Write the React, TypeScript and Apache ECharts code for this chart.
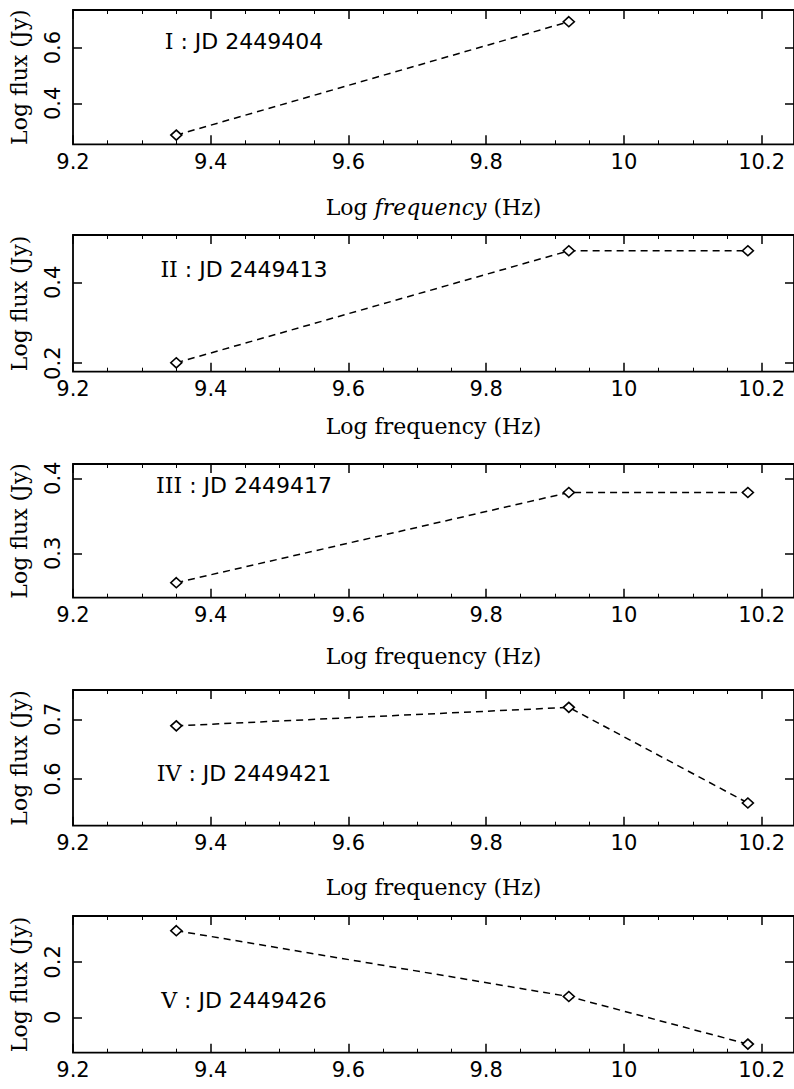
import React, { useEffect, useRef } from "react";
import * as echarts from "echarts";

// ---- data ----
const freqs = [9.35, 9.92, 10.18];
const fluxI = [0.286, 0.693];
const fluxII = [0.201, 0.478, 0.478];
const fluxIII = [0.261, 0.381, 0.381];
const fluxIV = [0.689, 0.72, 0.56];
const fluxV = [0.313, 0.075, -0.097];

const panelLabels = [
  ["I", "JD 2449404"],
  ["II", "JD 2449413"],
  ["III", "JD 2449417"],
  ["IV", "JD 2449421"],
  ["V", "JD 2449426"],
];

const xTicks = [9.2, 9.4, 9.6, 9.8, 10, 10.2];
const yTicksI = [0.4, 0.6];
const yTicksII = [0.2, 0.4];
const yTicksIII = [0.3, 0.4];
const yTicksIV = [0.6, 0.7];
const yTicksV = [0, 0.2];

const yRangeI = [0.253, 0.735];
const yRangeII = [0.179, 0.517];
const yRangeIII = [0.241, 0.419];
const yRangeIV = [0.522, 0.749];
const yRangeV = [-0.128, 0.366];

const xRange = [9.2, 10.247];

const xTitle = "Log frequency (Hz)";
const yTitle = "Log flux (Jy)";

// ---- layout ----
const panels = [
  { flux: fluxI, ticks: yTicksI, range: yRangeI, top: 10, height: 134.3, labelY: 41.7, nameGap: 52, italic: true, title: true },
  { flux: fluxII, ticks: yTicksII, range: yRangeII, top: 235, height: 136.7, labelY: 269.3, nameGap: 44, italic: false, title: true },
  { flux: fluxIII, ticks: yTicksIII, range: yRangeIII, top: 464, height: 133.7, labelY: 485, nameGap: 48, italic: false, title: true },
  { flux: fluxIV, ticks: yTicksIV, range: yRangeIV, top: 690, height: 135.7, labelY: 773.3, nameGap: 51, italic: false, title: true },
  { flux: fluxV, ticks: yTicksV, range: yRangeV, top: 916, height: 136.7, labelY: 1000, nameGap: 50, italic: false, title: false },
];

const INK = "#000";
const SANS = "DejaVu Sans";
const SERIF = "DejaVu Serif";
const GRID_LEFT = 72;
const GRID_WIDTH = 724;
const TICK_FONT = 21;
const TITLE_FONT = 22;
const NOTE_FONT = 22;

function buildOption() {
  const grid: any[] = [];
  const xAxis: any[] = [];
  const yAxis: any[] = [];
  const series: any[] = [];
  const graphic: any[] = [];

  panels.forEach((p, i) => {
    grid.push({
      left: GRID_LEFT,
      width: GRID_WIDTH,
      top: p.top,
      height: p.height,
      show: true,
      borderColor: INK,
      borderWidth: 1.8,
      backgroundColor: "transparent",
    });
    const tickCommon = {
      show: true,
      inside: true,
      length: 9,
      lineStyle: { color: INK, width: 1.5 },
    };
    const minor = { show: true, splitNumber: 4, length: 4, lineStyle: { color: INK, width: 1 } };
    // bottom x axis
    xAxis.push({
      type: "value",
      gridIndex: i,
      position: "bottom",
      min: xRange[0],
      max: xRange[1],
      axisLine: { show: false, onZero: false },
      splitLine: { show: false },
      axisTick: { ...tickCommon, customValues: xTicks },
      minorTick: minor,
      axisLabel: {
        show: true,
        customValues: xTicks,
        margin: 7,
        color: INK,
        fontFamily: SANS,
        fontSize: TICK_FONT,
        formatter: (v: number) => String(Math.round(v * 10) / 10),
      },
      name: p.title ? (p.italic ? "{n|Log }{i|frequency}{n| (Hz)}" : xTitle) : "",
      nameLocation: "middle",
      nameGap: p.nameGap,
      nameTextStyle: {
        color: INK,
        fontFamily: SERIF,
        fontSize: TITLE_FONT,
        rich: {
          n: { fontFamily: SERIF, fontSize: TITLE_FONT, color: INK },
          i: { fontFamily: SERIF, fontSize: TITLE_FONT, color: INK, fontStyle: "italic" },
        },
      },
    });
    // top x axis (ticks only)
    xAxis.push({
      type: "value",
      gridIndex: i,
      position: "top",
      min: xRange[0],
      max: xRange[1],
      axisLine: { show: false, onZero: false },
      splitLine: { show: false },
      axisTick: { ...tickCommon, customValues: xTicks },
      minorTick: minor,
      axisLabel: { show: false },
    });
    // left y axis
    yAxis.push({
      type: "value",
      gridIndex: i,
      position: "left",
      min: p.range[0],
      max: p.range[1],
      axisLine: { show: false, onZero: false },
      splitLine: { show: false },
      axisTick: { ...tickCommon, customValues: p.ticks },
      axisLabel: {
        show: true,
        customValues: p.ticks,
        rotate: 90,
        margin: 10,
        color: INK,
        fontFamily: SANS,
        fontSize: TICK_FONT,
        formatter: (v: number) => String(Math.round(v * 10) / 10),
      },
      name: yTitle,
      nameLocation: "middle",
      nameGap: 43,
      nameTextStyle: { color: INK, fontFamily: SERIF, fontSize: TITLE_FONT },
    });
    // right y axis (ticks only)
    yAxis.push({
      type: "value",
      gridIndex: i,
      position: "right",
      min: p.range[0],
      max: p.range[1],
      axisLine: { show: false, onZero: false },
      splitLine: { show: false },
      axisTick: { ...tickCommon, customValues: p.ticks },
      axisLabel: { show: false },
    });

    series.push({
      type: "line",
      xAxisIndex: i * 2,
      yAxisIndex: i * 2,
      data: p.flux.map((f, k) => [freqs[k], f]),
      symbol: "diamond",
      symbolSize: [11, 10],
      showAllSymbol: true,
      itemStyle: { color: "#fff", borderColor: INK, borderWidth: 1.6 },
      lineStyle: { color: INK, width: 1.5, type: [7, 5] },
      z: 3,
    });

    const [num, jd] = panelLabels[i];
    graphic.push({
      type: "text",
      x: 244,
      y: p.labelY,
      style: {
        text: `{r|${num}}{s| : ${jd}}`,
        align: "center",
        verticalAlign: "middle",
        fill: INK,
        rich: {
          r: { fontFamily: SERIF, fontSize: NOTE_FONT, fill: INK },
          s: { fontFamily: SANS, fontSize: NOTE_FONT, fill: INK },
        },
      },
    });
  });

  return {
    animation: false,
    backgroundColor: "#fff",
    grid,
    xAxis,
    yAxis,
    series,
    graphic,
  };
}

export default function App() {
  const ref = useRef<HTMLDivElement>(null);
  useEffect(() => {
    if (!ref.current) return;
    const chart = echarts.init(ref.current, undefined, { renderer: "svg" });
    chart.setOption(buildOption() as any);
    return () => chart.dispose();
  }, []);
  return (
    <div
      ref={ref}
      style={{ position: "absolute", left: 0, top: 0, width: 794, height: 1089, background: "#fff" }}
    />
  );
}
